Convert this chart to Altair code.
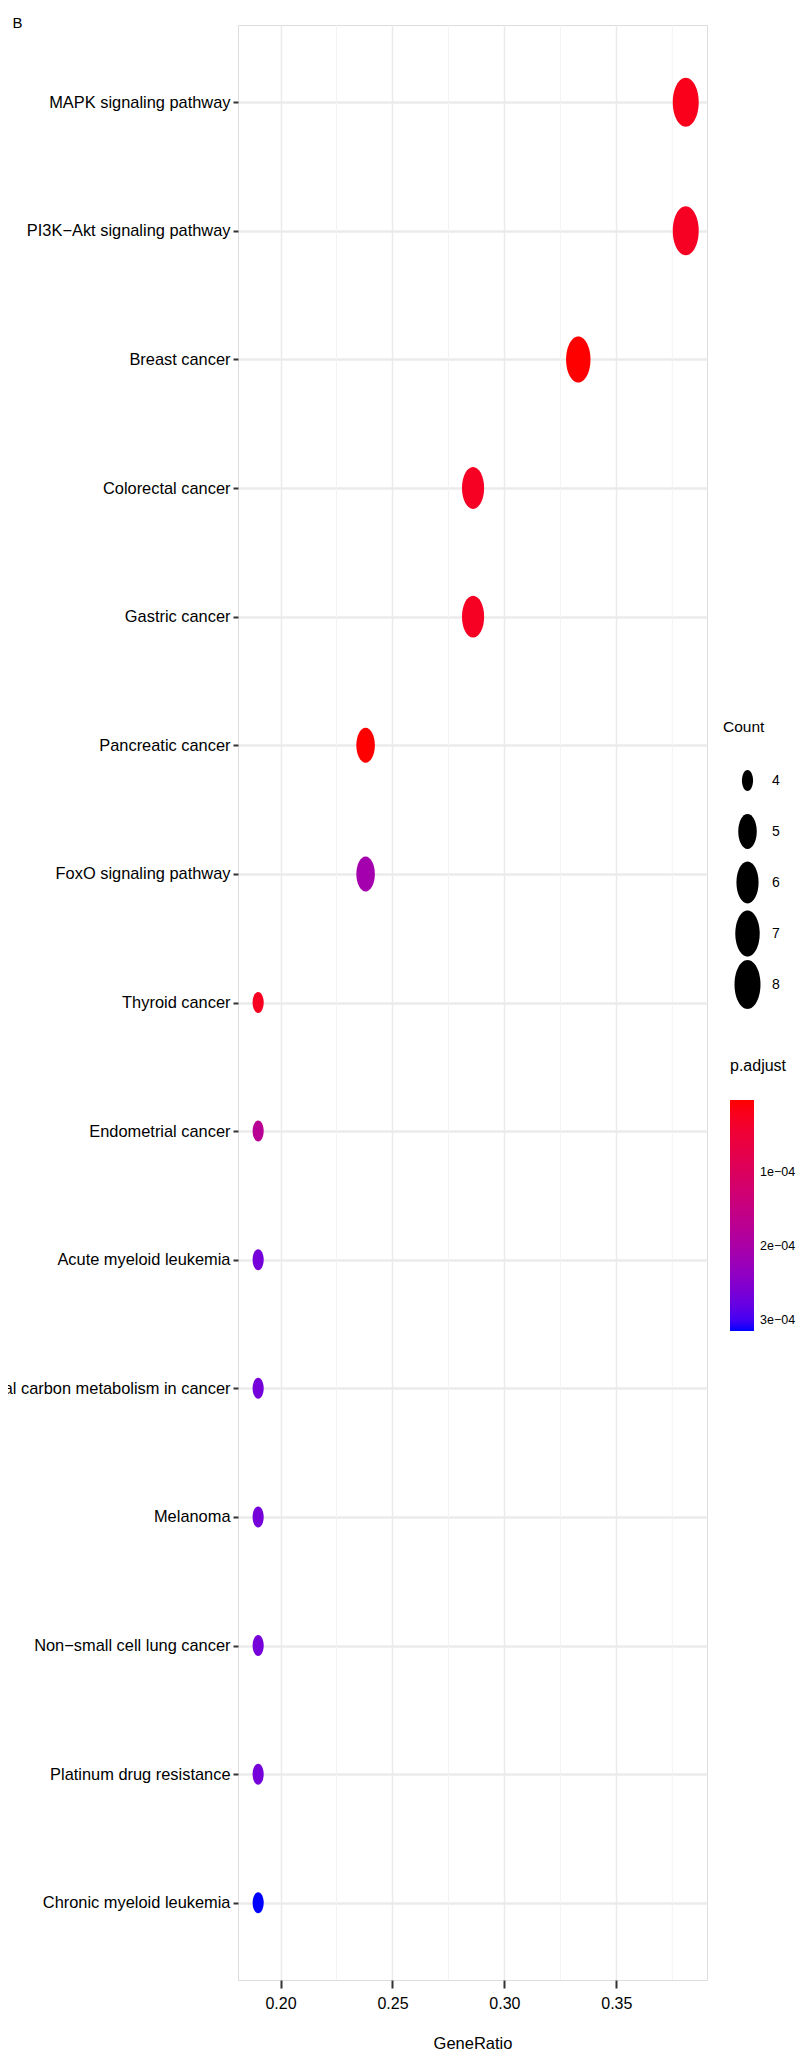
import altair as alt
import pandas as pd

pathways = [
    "MAPK signaling pathway",
    "PI3K-Akt signaling pathway",
    "Breast cancer",
    "Colorectal cancer",
    "Gastric cancer",
    "Pancreatic cancer",
    "FoxO signaling pathway",
    "Thyroid cancer",
    "Endometrial cancer",
    "Acute myeloid leukemia",
    "Central carbon metabolism in cancer",
    "Melanoma",
    "Non-small cell lung cancer",
    "Platinum drug resistance",
    "Chronic myeloid leukemia",
]
gene_ratio = [0.381, 0.381, 0.333, 0.286, 0.286, 0.238, 0.238, 0.190,
              0.190, 0.190, 0.190, 0.190, 0.190, 0.190, 0.190]
counts = [8, 8, 7, 6, 6, 5, 5, 4, 4, 4, 4, 4, 4, 4, 4]
p_adjust = [1.8e-5, 2.7e-5, 2.3e-6, 2.7e-5, 2.7e-5, 2.3e-6, 2.1e-4, 2.4e-5,
            1.74e-4, 2.67e-4, 2.67e-4, 2.67e-4, 2.67e-4, 2.67e-4, 3.145e-4]
padj_limits = [2.3e-6, 3.145e-4]
padj_breaks = [1e-4, 2e-4, 3e-4]
minor_breaks = [0.225, 0.275, 0.325, 0.375]
major_breaks = [0.20, 0.25, 0.30, 0.35]
count_breaks = [4, 5, 6, 7, 8]

# labels with true minus sign like R
labels = [p.replace("-", "\u2212") for p in pathways]

df = pd.DataFrame({
    "Description": labels,
    "GeneRatio": gene_ratio,
    "Count": counts,
    "padj": p_adjust,
})
minor_df = pd.DataFrame({"x": minor_breaks})

FONT = "Liberation Sans, Arial, sans-serif"
ELLIPSE = "M -0.53 0 A 0.53 1 0 1 0 0.53 0 A 0.53 1 0 1 0 -0.53 0 Z"

xscale = alt.Scale(domain=[0.181, 0.3905], nice=False, zero=False)

minor = alt.Chart(minor_df).mark_rule(color="#f3f3f3", strokeWidth=1).encode(
    x=alt.X("x:Q", scale=xscale)
)

points = alt.Chart(df).transform_calculate(
    negp="-datum.padj"
).mark_point(
    filled=True, shape=ELLIPSE, opacity=1, strokeWidth=0
).encode(
    x=alt.X(
        "GeneRatio:Q",
        scale=xscale,
        title="GeneRatio",
        axis=alt.Axis(
            values=major_breaks,
            format=".2f",
            grid=True,
            gridColor="#ebebeb",
            gridWidth=1.5,
            domain=False,
            ticks=True,
            tickColor="#333333",
            tickWidth=2,
            tickSize=8,
            labelFont=FONT,
            labelFontSize=16,
            labelColor="#000000",
            labelPadding=7,
            titleFont=FONT,
            titleFontSize=16.5,
            titleFontWeight="normal",
            titleColor="#000000",
            titleY=68,
            titleBaseline="alphabetic",
        ),
    ),
    y=alt.Y(
        "Description:N",
        sort=labels,
        title="B",
        scale=alt.Scale(type="point", padding=0.6),
        axis=alt.Axis(
            grid=True,
            gridColor="#ebebeb",
            gridWidth=2.5,
            domain=False,
            ticks=True,
            tickColor="#333333",
            tickWidth=2,
            tickSize=5,
            labelFont=FONT,
            labelFontSize=16.4,
            labelColor="#000000",
            labelPadding=3,
            labelLimit=0,
            titleAngle=0,
            titleX=-226,
            titleY=2,
            titleAlign="left",
            titleBaseline="alphabetic",
            titleFont=FONT,
            titleFontSize=15,
            titleFontWeight="normal",
            titleColor="#000000",
        ),
    ),
    size=alt.Size(
        "Count:Q",
        scale=alt.Scale(type="pow", exponent=-1, domain=[4, 8], range=[441, 2401]),
        legend=alt.Legend(
            title="Count",
            orient="none",
            legendX=485,
            legendY=695,
            values=count_breaks,
            symbolType=ELLIPSE,
            symbolFillColor="#000000",
            symbolStrokeWidth=0,
            labelOffset=0,
            clipHeight=50,
            rowPadding=1,
            titleFont=FONT,
            titleFontSize=15.5,
            titleFontWeight="normal",
            titleColor="#000000",
            titlePadding=20,
            labelFont=FONT,
            labelFontSize=14,
            labelColor="#000000",
        ),
    ),
    color=alt.Color(
        "negp:Q",
        scale=alt.Scale(domain=[-padj_limits[1], -padj_limits[0]],
                        range=["#0000ff", "#ff0000"], interpolate="lab"),
        legend=alt.Legend(
            title="p.adjust",
            orient="none",
            legendX=492,
            legendY=1033,
            values=[-v for v in padj_breaks],
            labelExpr="'' + round(-datum.value * 10000) + 'e\u221204'",
            gradientLength=231,
            gradientThickness=24,
            gradientStrokeWidth=0,
            titleFont=FONT,
            titleFontSize=16,
            titleFontWeight="normal",
            titleColor="#000000",
            titlePadding=26,
            labelFont=FONT,
            labelFontSize=12.5,
            labelColor="#000000",
            labelOffset=6,
        ),
    ),
)

chart = alt.layer(minor, points).properties(
    width=469,
    height=1955,
    autosize=alt.AutoSizeParams(type="none"),
    padding={"left": 230, "top": 17, "right": 90, "bottom": 77},
).configure_view(
    stroke="#4d4d4d", strokeWidth=1.2
).configure(background="white")

chart.save("out.html", embed_options={"renderer": "svg", "actions": False})
